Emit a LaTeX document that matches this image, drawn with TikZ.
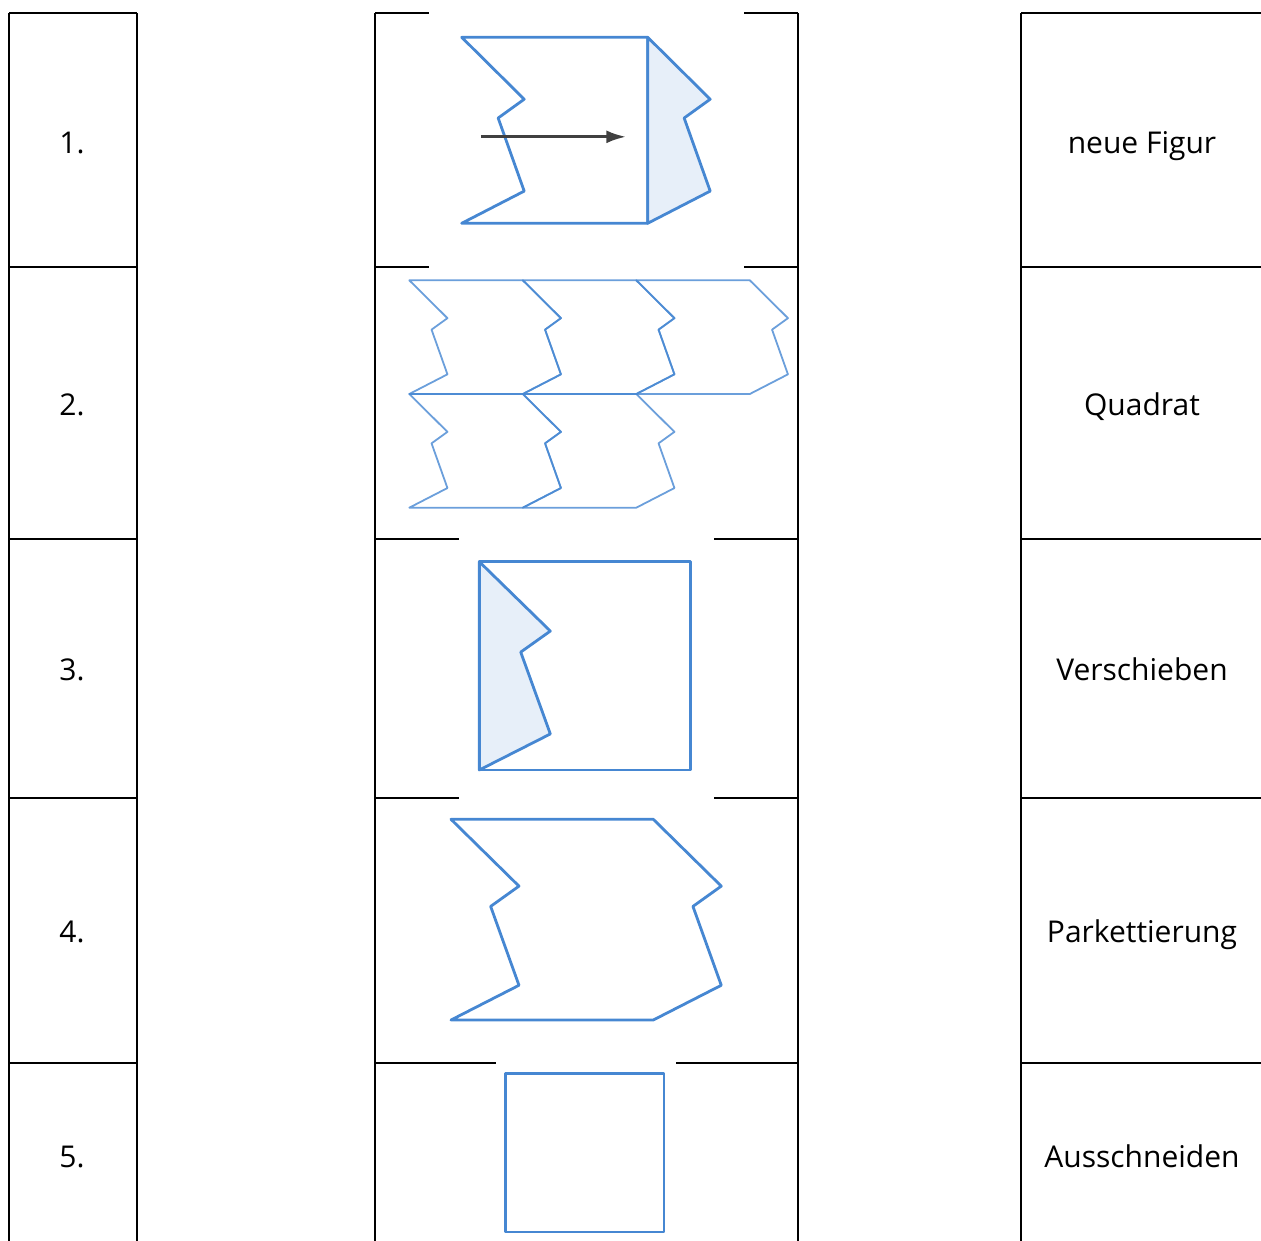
\documentclass[tikz,border=0pt]{standalone}
\usepackage{fontspec}
\setmainfont{Open Sans}
\usetikzlibrary{arrows.meta}

\definecolor{figblau}{RGB}{70,135,210}
\definecolor{fighell}{RGB}{231,239,249}
\definecolor{pfeilgrau}{RGB}{64,64,64}

\begin{document}
\begin{tikzpicture}[x=1pt, y=-1pt,
    rahmen/.style={line width=2.4pt, black},
    umriss/.style={line width=2.8pt, figblau, line join=round},
    flaeche/.style={umriss, fill=fighell},
    muster/.style={line width=1.8pt, figblau, draw opacity=.8, line join=round},
    eintrag/.style={anchor=base, font=\fontsize{30}{35}\selectfont, text=black}]
    \useasboundingbox (0,0) rectangle (1261,1241);

    % Tabellenrahmen
    \foreach \x in {9,137,375,798,1021}
        \draw[rahmen] (\x,13) -- (\x,1241);
    \foreach \y in {13,267,539,798,1063} {
        \draw[rahmen] (9,\y) -- (137,\y);
        \draw[rahmen] (1021,\y) -- (1261,\y);
    }
    \draw[rahmen] (375,13) -- (429,13)   (744,13) -- (798,13);
    \draw[rahmen] (375,267) -- (429,267) (744,267) -- (798,267);
    \draw[rahmen] (375,539) -- (459,539) (714,539) -- (798,539);
    \draw[rahmen] (375,798) -- (459,798) (714,798) -- (798,798);
    \draw[rahmen] (375,1063) -- (496,1063) (676,1063) -- (798,1063);

    % Nummern und Begriffe
    \node[eintrag] (nr1) at (72,153.5) {1.};
    \node[eintrag] (nr2) at (72,415.5) {2.};
    \node[eintrag] (nr3) at (72,680.5) {3.};
    \node[eintrag] (nr4) at (72,942.5) {4.};
    \node[eintrag] (nr5) at (72,1167.5) {5.};
    \node[eintrag] (begriff1) at (1142,153.5) {neue Figur};
    \node[eintrag] (begriff2) at (1142,415.5) {Quadrat};
    \node[eintrag] (begriff3) at (1142,680.5) {Verschieben};
    \node[eintrag] (begriff4) at (1142,942.5) {Parkettierung};
    \node[eintrag] (begriff5) at (1142,1167.5) {Ausschneiden};

    % 1. neue Figur mit Verschiebungspfeil
    \begin{scope}[shift={(461.7,37.3)}, scale=186]
        \draw[umriss] (0,0) -- (1,0) -- (1,1) -- (0,1) -- (.336,.827)
            -- (.196,.434) -- (.336,.333) -- cycle;
        \draw[flaeche] (1,0) -- (1.336,.333) -- (1.196,.434) -- (1.336,.827)
            -- (1,1) -- cycle;
        \coordinate (pfeilA) at (.103,.535);
        \coordinate (pfeilB) at (.885,.535);
    \end{scope}
    \draw[pfeilgrau, line width=3.2pt, -{Latex[length=20pt,width=13pt]}] (pfeilA) -- (pfeilB);

    % 2. Parkettierung
    \foreach \i/\j in {0/0,1/0,2/0,0/1,1/1}
        \draw[muster, shift={(409.3+113.5*\i,280.3+113.7*\j)}, xscale=113.5, yscale=113.7]
            (0,0) -- (1,0) -- (1.336,.333) -- (1.196,.434) -- (1.336,.827)
            -- (1,1) -- (0,1) -- (.336,.827) -- (.196,.434) -- (.336,.333) -- cycle;

    % 3. Quadrat mit ausgeschnittenem Stueck
    \begin{scope}[shift={(479.3,561.7)}, xscale=211.4, yscale=208.3]
        \draw[flaeche] (0,0) -- (.336,.333) -- (.196,.434) -- (.336,.827)
            -- (0,1) -- cycle;
        \draw[umriss] (0,0) rectangle (1,1);
    \end{scope}

    % 4. verschobene Figur
    \begin{scope}[shift={(451,819.3)}, xscale=202.3, yscale=200.7]
        \draw[umriss] (0,0) -- (1,0) -- (1.336,.333) -- (1.196,.434) -- (1.336,.827)
            -- (1,1) -- (0,1) -- (.336,.827) -- (.196,.434) -- (.336,.333) -- cycle;
    \end{scope}

    % 5. Quadrat
    \draw[umriss] (505.3,1073.3) rectangle (664,1232);
\end{tikzpicture}
\end{document}
